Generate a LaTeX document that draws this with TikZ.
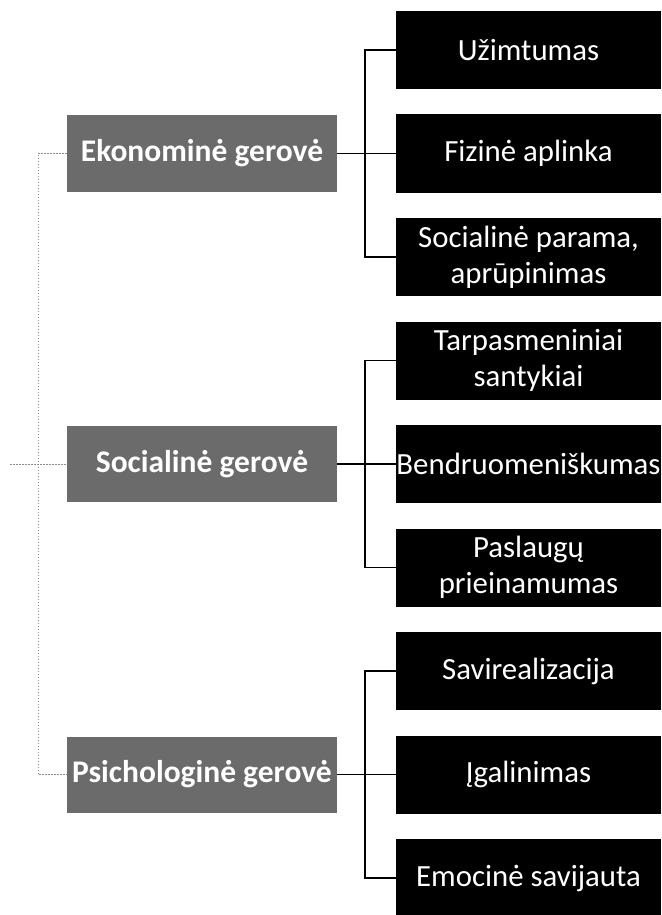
\documentclass[tikz,border=0pt]{standalone}
\usepackage{fontspec}
\setmainfont{Carlito}
\begin{document}
\begin{tikzpicture}[x=1pt,y=-1pt,
  child/.style={fill=black,text=white,minimum width=265pt,minimum height=78pt,inner sep=0pt,align=center,font=\fontsize{30.8}{36}\selectfont},
  parent/.style={fill=black!58,text=white,minimum width=270pt,minimum height=76pt,inner sep=0pt,align=center,font=\fontsize{31.5}{36}\selectfont\bfseries},
  link/.style={draw=black,line width=1.6pt},
  dots/.style={draw=black!45,line width=0.8pt,dash pattern=on 1.5pt off 1.5pt}]
\useasboundingbox (0,0) rectangle (661,915);
% children
\node[child] (c1) at (528.5,50) {Užimtumas};
\node[child] (c2) at (528.5,153.5) {Fizinė aplinka};
\node[child] (c3) at (528.5,257) {Socialinė parama,\\aprūpinimas};
\node[child] (c4) at (528.5,360.5) {Tarpasmeniniai\\santykiai};
\node[child] (c5) at (528.5,464) {Bendruomeniškumas};
\node[child] (c6) at (528.5,567.5) {Paslaugų\\prieinamumas};
\node[child] (c7) at (528.5,671) {Savirealizacija};
\node[child] (c8) at (528.5,774.5) {Įgalinimas};
\node[child] (c9) at (528.5,878) {Emocinė savijauta};
% parents
\node[parent] (ek) at (202,153.5) {Ekonominė gerovė};
\node[parent] (so) at (202,464) {Socialinė gerovė};
\node[parent] (ps) at (202,774.5) {Psichologinė gerovė};
% brackets
\coordinate (b1) at (365,153.5);
\coordinate (b2) at (365,464);
\coordinate (b3) at (365,774.5);
\draw[link] (c1.west) -| (b1) |- (c3.west);
\draw[link] (c4.west) -| (b2) |- (c6.west);
\draw[link] (c7.west) -| (b3) |- (c9.west);
\draw[link] (ek.east) -- (c2.west);
\draw[link] (so.east) -- (c5.west);
\draw[link] (ps.east) -- (c8.west);
% left dotted tree
\coordinate (L) at (38,464);
\coordinate (Lfree) at (10,464);
\draw[dots] (ek.west) -| (L) |- (ps.west);
\draw[dots] (Lfree) -- (so.west);
\end{tikzpicture}
\end{document}
